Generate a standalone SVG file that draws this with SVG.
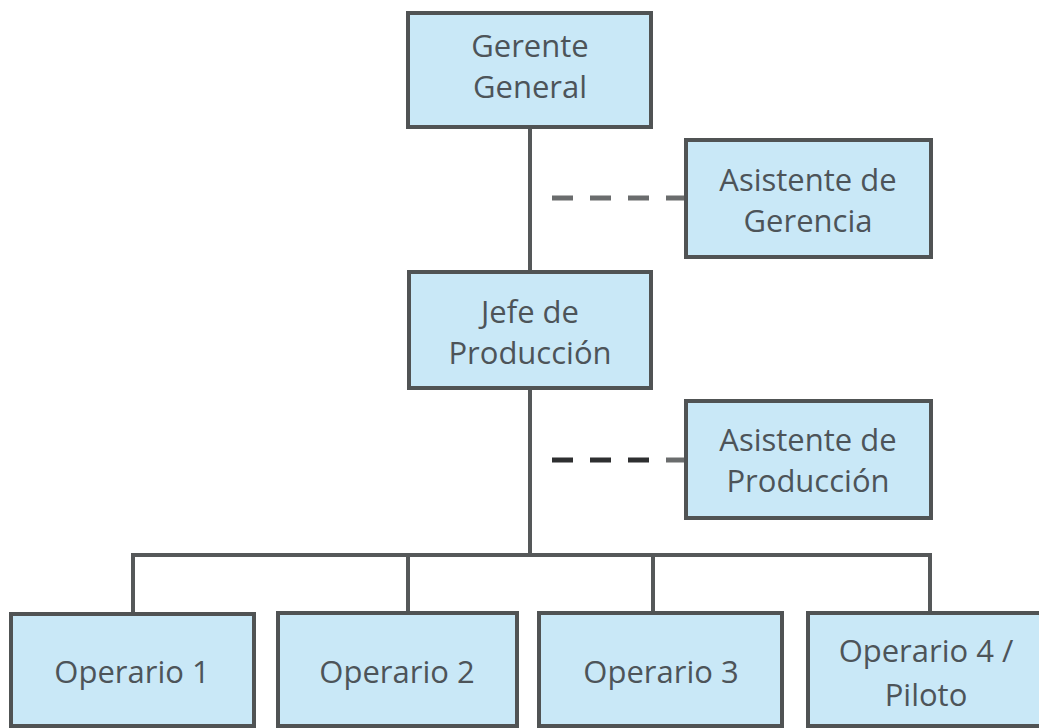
<svg xmlns="http://www.w3.org/2000/svg" width="1039" height="728" viewBox="0 0 1039 728">
<style>
.box{fill:#c9e8f7;stroke:#505354;stroke-width:4}
.t{font-family:"Open Sans","Noto Sans",sans-serif;font-size:31px;fill:#4d5459;text-anchor:middle}
.ln{stroke:#555859;stroke-width:4;fill:none}
.d1{stroke:#6a6c6d;stroke-width:5;fill:none;stroke-dasharray:21 17}
.d2{stroke:#2e2f30;stroke-width:5;fill:none;stroke-dasharray:21 17}
</style>
<rect width="1039" height="728" fill="#ffffff"/>
<g id="connectors">
<path class="ln" d="M530,127 V555 M133,555 H930 M133,553 V613 M408,553 V613 M653,553 V613 M930,553 V613"/>
<path class="d1" d="M552,198 H685"/>
<path class="d2" d="M552,460 H666"/>
<path class="d1" d="M666,460 H685"/>
</g>
<g id="gerente-general">
<rect class="box" x="408" y="13" width="243" height="114"/>
<text class="t" x="530" y="57">Gerente</text>
<text class="t" x="530" y="98">General</text>
</g>
<g id="asistente-gerencia">
<rect class="box" x="686" y="140" width="245" height="117"/>
<text class="t" x="808" y="191">Asistente de</text>
<text class="t" x="808" y="232">Gerencia</text>
</g>
<g id="jefe-produccion">
<rect class="box" x="409" y="272" width="242" height="116"/>
<text class="t" x="530" y="323">Jefe de</text>
<text class="t" x="530" y="364">Producción</text>
</g>
<g id="asistente-produccion">
<rect class="box" x="686" y="401" width="245" height="117"/>
<text class="t" x="808" y="451">Asistente de</text>
<text class="t" x="808" y="492">Producción</text>
</g>
<g id="operario-1">
<rect class="box" x="11" y="614" width="243" height="112"/>
<text class="t" x="132" y="683">Operario 1</text>
</g>
<g id="operario-2">
<rect class="box" x="278" y="613" width="239" height="113"/>
<text class="t" x="397" y="683">Operario 2</text>
</g>
<g id="operario-3">
<rect class="box" x="539" y="613" width="243" height="113"/>
<text class="t" x="661" y="683">Operario 3</text>
</g>
<g id="operario-4">
<rect class="box" x="808" y="613" width="240" height="113"/>
<text class="t" x="926" y="662">Operario 4 /</text>
<text class="t" x="926" y="706">Piloto</text>
</g>
</svg>
